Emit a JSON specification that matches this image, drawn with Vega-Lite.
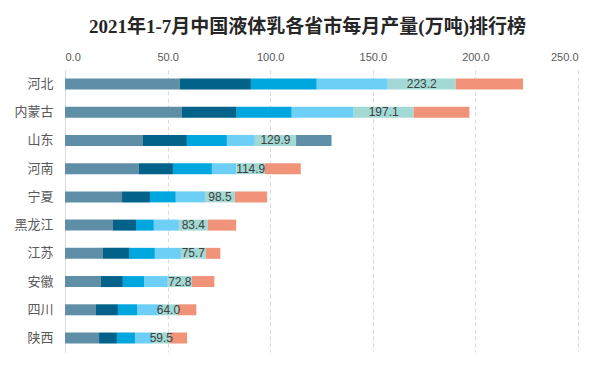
{
  "$schema": "https://vega.github.io/schema/vega-lite/v6.json",
  "width": 513,
  "height": 282,
  "autosize": {"type": "none"},
  "padding": {"left": 65, "top": 70, "right": 33, "bottom": 16},
  "background": "white",
  "config": {"view": {"stroke": null}},
  "title": {
    "text": "2021年1-7月中国液体乳各省市每月产量(万吨)排行榜",
    "font": "Liberation Serif, Noto Sans CJK SC",
    "fontSize": 19,
    "fontWeight": "bold",
    "color": "#262626",
    "anchor": "middle",
    "dx": -14,
    "offset": 14
  },
  "data": {
    "values": [
      {"p": "河北", "m": "1-2月", "v": 56.0}, {"p": "河北", "m": "3月", "v": 34.6}, {"p": "河北", "m": "4月", "v": 32.1}, {"p": "河北", "m": "5月", "v": 34.6}, {"p": "河北", "m": "6月", "v": 33.1}, {"p": "河北", "m": "7月", "v": 32.8},
      {"p": "内蒙古", "m": "1-2月", "v": 57.0}, {"p": "内蒙古", "m": "3月", "v": 26.7}, {"p": "内蒙古", "m": "4月", "v": 26.8}, {"p": "内蒙古", "m": "5月", "v": 30.2}, {"p": "内蒙古", "m": "6月", "v": 29.2}, {"p": "内蒙古", "m": "7月", "v": 27.2},
      {"p": "山东", "m": "1-2月", "v": 38.0}, {"p": "山东", "m": "3月", "v": 21.4}, {"p": "山东", "m": "4月", "v": 19.5}, {"p": "山东", "m": "5月", "v": 13.6}, {"p": "山东", "m": "6月", "v": 20.1}, {"p": "山东", "m": "7月", "v": 17.3},
      {"p": "河南", "m": "1-2月", "v": 36.0}, {"p": "河南", "m": "3月", "v": 16.6}, {"p": "河南", "m": "4月", "v": 19.0}, {"p": "河南", "m": "5月", "v": 12.0}, {"p": "河南", "m": "6月", "v": 13.8}, {"p": "河南", "m": "7月", "v": 17.5},
      {"p": "宁夏", "m": "1-2月", "v": 27.8}, {"p": "宁夏", "m": "3月", "v": 13.6}, {"p": "宁夏", "m": "4月", "v": 12.6}, {"p": "宁夏", "m": "5月", "v": 14.2}, {"p": "宁夏", "m": "6月", "v": 14.6}, {"p": "宁夏", "m": "7月", "v": 15.7},
      {"p": "黑龙江", "m": "1-2月", "v": 23.4}, {"p": "黑龙江", "m": "3月", "v": 11.2}, {"p": "黑龙江", "m": "4月", "v": 8.7}, {"p": "黑龙江", "m": "5月", "v": 12.2}, {"p": "黑龙江", "m": "6月", "v": 14.1}, {"p": "黑龙江", "m": "7月", "v": 13.8},
      {"p": "江苏", "m": "1-2月", "v": 18.5}, {"p": "江苏", "m": "3月", "v": 12.7}, {"p": "江苏", "m": "4月", "v": 12.6}, {"p": "江苏", "m": "5月", "v": 12.7}, {"p": "江苏", "m": "6月", "v": 12.1}, {"p": "江苏", "m": "7月", "v": 7.1},
      {"p": "安徽", "m": "1-2月", "v": 17.5}, {"p": "安徽", "m": "3月", "v": 10.7}, {"p": "安徽", "m": "4月", "v": 10.3}, {"p": "安徽", "m": "5月", "v": 11.6}, {"p": "安徽", "m": "6月", "v": 11.7}, {"p": "安徽", "m": "7月", "v": 11.0},
      {"p": "四川", "m": "1-2月", "v": 15.1}, {"p": "四川", "m": "3月", "v": 10.7}, {"p": "四川", "m": "4月", "v": 9.3}, {"p": "四川", "m": "5月", "v": 10.7}, {"p": "四川", "m": "6月", "v": 9.2}, {"p": "四川", "m": "7月", "v": 9.0},
      {"p": "陕西", "m": "1-2月", "v": 16.6}, {"p": "陕西", "m": "3月", "v": 8.7}, {"p": "陕西", "m": "4月", "v": 8.8}, {"p": "陕西", "m": "5月", "v": 8.7}, {"p": "陕西", "m": "6月", "v": 8.3}, {"p": "陕西", "m": "7月", "v": 8.4}
    ]
  },
  "transform": [
    {"joinaggregate": [{"op": "sum", "field": "v", "as": "total"}], "groupby": ["p"]}
  ],
  "encoding": {
    "y": {
      "field": "p",
      "type": "nominal",
      "sort": ["河北", "内蒙古", "山东", "河南", "宁夏", "黑龙江", "江苏", "安徽", "四川", "陕西"],
      "scale": {"paddingInner": 0.61, "paddingOuter": 0.3},
      "axis": {
        "title": null,
        "ticks": false,
        "domain": true,
        "domainColor": "#d9d9d9",
        "domainWidth": 1,
        "labelFont": "Noto Sans CJK SC",
        "labelFontSize": 13,
        "labelColor": "#595959",
        "labelPadding": 12
      }
    },
    "x": {
      "field": "v",
      "type": "quantitative",
      "stack": "zero",
      "scale": {"domain": [0, 250], "nice": false},
      "axis": {
        "orient": "top",
        "title": null,
        "values": [0, 50, 100, 150, 200, 250],
        "format": ".1f",
        "ticks": false,
        "domain": false,
        "grid": true,
        "gridColor": "#d9d9d9",
        "gridDash": [4, 3],
        "gridWidth": 1,
        "labelFont": "Liberation Sans",
        "labelFontSize": 11,
        "labelColor": "#595959",
        "labelPadding": 8
      }
    }
  },
  "layer": [
    {
      "mark": {"type": "bar", "size": 11},
      "encoding": {
        "color": {
          "condition": {"test": "datum.p === '山东' && datum.m === '7月'", "value": "#5f8fa6"},
          "field": "m",
          "type": "nominal",
          "scale": {
            "domain": ["1-2月", "3月", "4月", "5月", "6月", "7月"],
            "range": ["#5f8fa6", "#02628a", "#00a6de", "#6dcff6", "#a3d9d4", "#f09378"]
          },
          "legend": null
        }
      }
    },
    {
      "mark": {"type": "text", "font": "Liberation Sans", "fontSize": 12, "color": "#404040", "align": "center", "baseline": "middle"},
      "encoding": {
        "x": {"field": "v", "type": "quantitative", "stack": "zero", "bandPosition": 0.5},
        "detail": {"field": "m", "type": "nominal"},
        "text": {
          "condition": {"test": "datum.m === '6月'", "field": "total", "type": "quantitative", "format": ".1f"},
          "value": ""
        }
      }
    }
  ]
}
